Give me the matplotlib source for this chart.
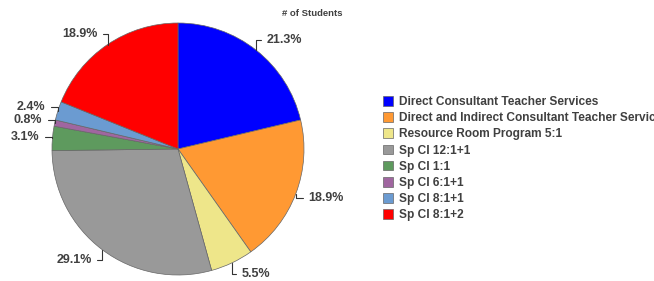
import numpy as np
import matplotlib
matplotlib.use("Agg")
import matplotlib.pyplot as plt

categories = ["Direct Consultant Teacher Services",
              "Direct and Indirect Consultant Teacher Servic",
              "Resource Room Program 5:1",
              "Sp Cl 12:1+1",
              "Sp Cl 1:1",
              "Sp Cl 6:1+1",
              "Sp Cl 8:1+1",
              "Sp Cl 8:1+2"]
percents = [21.3, 18.9, 5.5, 29.1, 3.1, 0.8, 2.4, 18.9]
colors = ["#0000FF", "#FF9933", "#EEE68A", "#999999", "#5E9A5E", "#A066A0", "#6B9BD1", "#FF0000"]
title = "# of Students"

plt.rcParams['font.family'] = ['Liberation Sans', 'DejaVu Sans']
fig = plt.figure(figsize=(6.54, 2.81), dpi=100)
W, H = 654, 281
cx, cy, R = 178, 149, 126
ax = fig.add_axes([(cx - R) / W, (H - cy - R) / H, 2 * R / W, 2 * R / H])
wedges, _ = ax.pie(percents, colors=colors, startangle=90, counterclock=False,
                   radius=1.0, wedgeprops=dict(edgecolor="#666666", linewidth=0.5))
ax.set_xlim(-1, 1)
ax.set_ylim(-1, 1)
ax.set_aspect('equal')
ax.axis('off')

txtcol = "#404040"
total = sum(percents)
cum = 0
for p in percents:
    mid = 90 - 360 * (cum + p / 2) / total
    cum += p
    a = np.deg2rad(mid)
    x, y = np.cos(a), np.sin(a)
    side = 1 if x >= 0 else -1
    tx = x * 1.04 + side * 0.06
    ty = y * 1.1
    ax.annotate(f"{p:.1f}%", xy=(x, y), xytext=(tx, ty),
                ha='left' if side > 0 else 'right', va='center',
                fontsize=9, fontweight='bold', color=txtcol,
                arrowprops=dict(arrowstyle='-', color='#333333', lw=0.8,
                                shrinkA=2, shrinkB=0,
                                connectionstyle="angle,angleA=0,angleB=90,rad=0"),
                annotation_clip=False)

fig.text(312 / W, 1 - 13 / H, title, ha='center', va='center',
         fontsize=6.8, fontweight='bold', color=txtcol)

leg = fig.legend(wedges, categories, loc='upper left',
                 bbox_to_anchor=(383 / W, 1 - 96 / H), frameon=False,
                 prop=dict(size=8.6, weight='bold'), labelcolor=txtcol,
                 handlelength=0.85, handleheight=0.85, handletextpad=0.45,
                 labelspacing=0.35, borderpad=0, borderaxespad=0)

fig.savefig("out.png", dpi=100)
